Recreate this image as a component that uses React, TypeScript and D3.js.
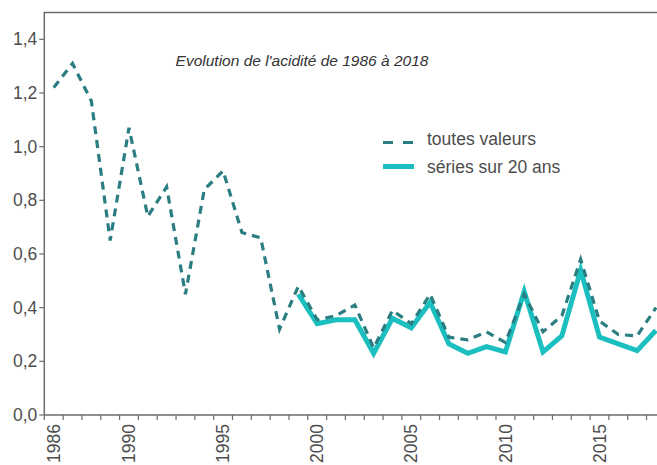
import React, { useEffect, useRef } from 'react';
import * as d3 from 'd3';

const width = 657;
const height = 465;

// years on the x axis
const years = [
  1986, 1987, 1988, 1989, 1990, 1991, 1992, 1993, 1994, 1995, 1996,
  1997, 1998, 1999, 2000, 2001, 2002, 2003, 2004, 2005, 2006, 2007,
  2008, 2009, 2010, 2011, 2012, 2013, 2014, 2015, 2016, 2017, 2018,
];

// "toutes valeurs" (dashed), 1986 - 2018
const allValues = [
  1.22, 1.31, 1.17, 0.65, 1.07, 0.74, 0.85, 0.45, 0.84, 0.91, 0.68,
  0.66, 0.32, 0.48, 0.355, 0.37, 0.41, 0.25, 0.39, 0.34, 0.45, 0.29,
  0.28, 0.31, 0.27, 0.45, 0.31, 0.37, 0.58, 0.35, 0.30, 0.295, 0.40,
];

// "séries sur 20 ans" (solid), 1999 - 2018
const seriesYears = [
  1999, 2000, 2001, 2002, 2003, 2004, 2005, 2006, 2007, 2008,
  2009, 2010, 2011, 2012, 2013, 2014, 2015, 2016, 2017, 2018,
];
const seriesValues = [
  0.45, 0.34, 0.355, 0.355, 0.23, 0.36, 0.325, 0.42, 0.265, 0.23,
  0.255, 0.235, 0.46, 0.235, 0.295, 0.54, 0.29, 0.265, 0.24, 0.315,
];

const yTicks = [0, 0.2, 0.4, 0.6, 0.8, 1.0, 1.2, 1.4];
const xLabels = [1986, 1990, 1995, 2000, 2005, 2010, 2015];

const title = "Evolution de l'acidité de 1986 à 2018";
const legendLabels = ['toutes valeurs', 'séries sur 20 ans'];

const dashColor = '#2a7d80';
const solidColor = '#1bbfbf';
const axisColor = '#6b6b6b';
const textColor = '#4d4d4d';
const font = '"Liberation Sans", Arial, sans-serif';

const App = () => {
  const ref = useRef<SVGSVGElement>(null);

  useEffect(() => {
    if (!ref.current) return;
    const svg = d3.select(ref.current);
    svg.selectAll('*').remove();

    const left = 44.3;
    const step = 18.82;
    const top = 12.5;
    const bottom = 415;

    const x = d3.scaleBand<number>()
      .domain(years)
      .range([left, left + step * years.length])
      .paddingInner(0)
      .paddingOuter(0);
    const cx = (yr: number) => (x(yr) as number) + x.bandwidth() / 2;

    const y = d3.scaleLinear().domain([0, 1.5]).range([bottom, top]);

    // frame (left + top)
    svg.append('path')
      .attr('d', `M${left},${bottom}V${top}H${width + 5}`)
      .attr('fill', 'none')
      .attr('stroke', axisColor)
      .attr('stroke-width', 1.5);

    // x axis line
    svg.append('line')
      .attr('x1', left).attr('x2', width + 5)
      .attr('y1', bottom).attr('y2', bottom)
      .attr('stroke', axisColor)
      .attr('stroke-width', 1.5);

    // y ticks and labels
    const fmt = d3.format('.1f');
    const yg = svg.append('g');
    yg.selectAll('line')
      .data(yTicks)
      .enter()
      .append('line')
      .attr('x1', left - 5).attr('x2', left)
      .attr('y1', (d) => y(d)).attr('y2', (d) => y(d))
      .attr('stroke', axisColor)
      .attr('stroke-width', 1.2);
    yg.selectAll('text')
      .data(yTicks)
      .enter()
      .append('text')
      .attr('x', left - 7)
      .attr('y', (d) => y(d))
      .attr('dy', '0.35em')
      .attr('text-anchor', 'end')
      .attr('font-family', font)
      .attr('font-size', 17.5)
      .attr('fill', textColor)
      .text((d) => fmt(d).replace('.', ','));

    // x ticks at band boundaries
    const xg = svg.append('g');
    xg.selectAll('line')
      .data(years)
      .enter()
      .append('line')
      .attr('x1', (d) => x(d) as number).attr('x2', (d) => x(d) as number)
      .attr('y1', bottom).attr('y2', bottom + 5)
      .attr('stroke', axisColor)
      .attr('stroke-width', 1.2);
    xg.selectAll('text')
      .data(xLabels)
      .enter()
      .append('text')
      .attr('transform', (d) => `translate(${cx(d)},${bottom + 9}) rotate(-90)`)
      .attr('dy', '0.35em')
      .attr('text-anchor', 'end')
      .attr('font-family', font)
      .attr('font-size', 17.5)
      .attr('fill', textColor)
      .text((d) => String(d));

    // lines
    const solidLine = d3.line<number>()
      .x((d, i) => cx(seriesYears[i]))
      .y((d) => y(d));
    svg.append('path')
      .attr('d', solidLine(seriesValues))
      .attr('fill', 'none')
      .attr('stroke', solidColor)
      .attr('stroke-width', 5)
      .attr('stroke-linejoin', 'miter');

    const dashLine = d3.line<number>()
      .x((d, i) => cx(years[i]))
      .y((d) => y(d));
    svg.append('path')
      .attr('d', dashLine(allValues))
      .attr('fill', 'none')
      .attr('stroke', dashColor)
      .attr('stroke-width', 3.2)
      .attr('stroke-dasharray', '8,6')
      .attr('stroke-linejoin', 'miter');

    // title
    svg.append('text')
      .attr('x', 302)
      .attr('y', 66)
      .attr('text-anchor', 'middle')
      .attr('font-family', font)
      .attr('font-style', 'italic')
      .attr('font-size', 15.5)
      .attr('fill', '#333')
      .text(title);

    // legend
    const lg = svg.append('g');
    lg.append('line')
      .attr('x1', 383).attr('x2', 414)
      .attr('y1', 142.5).attr('y2', 142.5)
      .attr('stroke', dashColor)
      .attr('stroke-width', 3.2)
      .attr('stroke-dasharray', '10,10');
    lg.append('line')
      .attr('x1', 383).attr('x2', 414)
      .attr('y1', 166.5).attr('y2', 166.5)
      .attr('stroke', solidColor)
      .attr('stroke-width', 5);
    lg.selectAll('text')
      .data(legendLabels)
      .enter()
      .append('text')
      .attr('x', 427)
      .attr('y', (d, i) => 145 + i * 27.5)
      .attr('font-family', font)
      .attr('font-size', 17.5)
      .attr('fill', textColor)
      .text((d) => d);
  }, []);

  return (
    <svg
      ref={ref}
      width={width}
      height={height}
      style={{ position: 'absolute', left: 0, top: 0, background: '#fff' }}
    ></svg>
  );
};

export default App;
